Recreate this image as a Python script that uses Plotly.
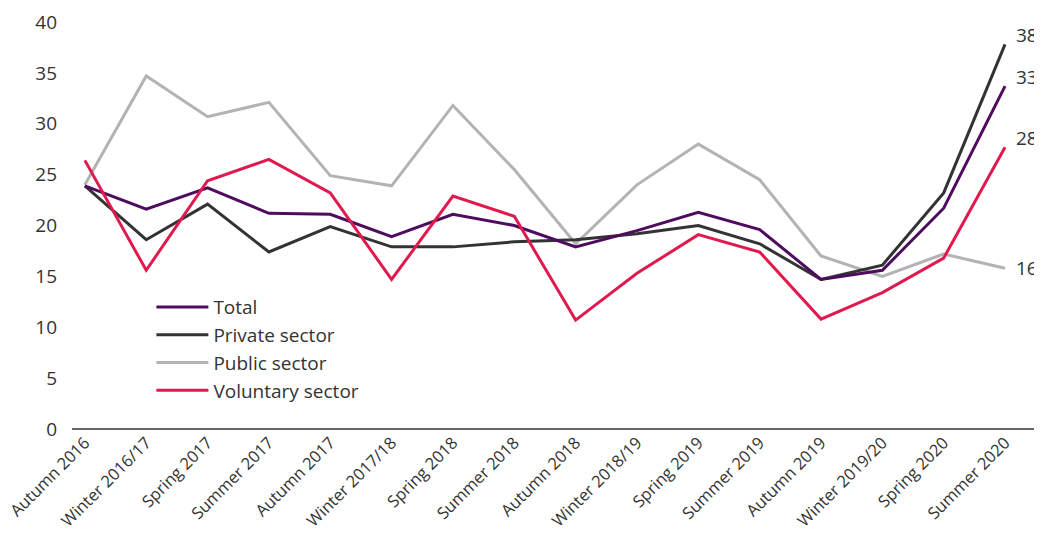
import plotly.graph_objects as go

categories = ["Autumn 2016", "Winter 2016/17", "Spring 2017", "Summer 2017", "Autumn 2017",
              "Winter 2017/18", "Spring 2018", "Summer 2018", "Autumn 2018", "Winter 2018/19",
              "Spring 2019", "Summer 2019", "Autumn 2019", "Winter 2019/20", "Spring 2020",
              "Summer 2020"]
total = [23.9, 21.6, 23.7, 21.2, 21.1, 18.9, 21.1, 20.0, 17.9, 19.5, 21.3, 19.6, 14.7, 15.6, 21.7, 33.7]
private = [23.9, 18.6, 22.1, 17.4, 19.9, 17.9, 17.9, 18.4, 18.6, 19.2, 20.0, 18.2, 14.7, 16.1, 23.2, 37.8]
public = [24.0, 34.7, 30.7, 32.1, 24.9, 23.9, 31.8, 25.5, 18.2, 24.0, 28.0, 24.5, 17.0, 15.0, 17.2, 15.8]
voluntary = [26.4, 15.6, 24.4, 26.5, 23.2, 14.7, 22.9, 20.9, 10.7, 15.3, 19.1, 17.4, 10.8, 13.4, 16.8, 27.7]
end_labels = {"Private sector": "38", "Total": "33", "Voluntary sector": "28", "Public sector": "16"}
y_ticks = [0, 5, 10, 15, 20, 25, 30, 35, 40]

FONT = "Open Sans"
series = [
    ("Public sector", public, "#b3b3b3", 3),
    ("Private sector", private, "#333333", 2),
    ("Total", total, "#4f0c5e", 1),
    ("Voluntary sector", voluntary, "#e0194f", 4),
]

fig = go.Figure()
for name, vals, color, rank in series:
    fig.add_trace(go.Scatter(
        x=categories, y=vals, name=name, mode="lines",
        line=dict(color=color, width=3), legendrank=rank,
    ))

shifts = {"Private sector": 9, "Total": 9, "Voluntary sector": 9, "Public sector": 0}
data_map = {"Total": total, "Private sector": private, "Public sector": public, "Voluntary sector": voluntary}
for name, lab in end_labels.items():
    fig.add_annotation(
        x=categories[-1], y=data_map[name][-1], text=lab, showarrow=False,
        xanchor="left", yanchor="middle", xshift=9, yshift=shifts[name],
        font=dict(family=FONT, size=19, color="#333333"),
    )

# page has an 8px body margin, so the figure is 8px smaller than the window
fig.update_layout(
    width=1034, height=527,
    margin=dict(l=64, r=2, t=14, b=106, autoexpand=False),
    paper_bgcolor="white", plot_bgcolor="white",
    font=dict(family=FONT, color="#333333"),
    showlegend=True,
    legend=dict(
        x=0.082, y=0.346, xanchor="left", yanchor="top",
        font=dict(family=FONT, size=19, color="#333333"),
        bgcolor="rgba(0,0,0,0)", tracegroupgap=0, itemwidth=52,
    ),
    xaxis=dict(
        range=[-0.21, 15.57], showgrid=False, zeroline=False,
        showline=False, ticks="", tickangle=-45,
        tickfont=dict(family=FONT, size=16.5, color="#333333"),
    ),
    yaxis=dict(
        range=[0, 40], tickvals=y_ticks, showgrid=False, zeroline=True,
        zerolinecolor="#666666", zerolinewidth=1.5, showline=False, ticks="",
        tickfont=dict(family=FONT, size=19, color="#333333"), ticklabelstandoff=14,
    ),
)

fig.write_html("out.html")
